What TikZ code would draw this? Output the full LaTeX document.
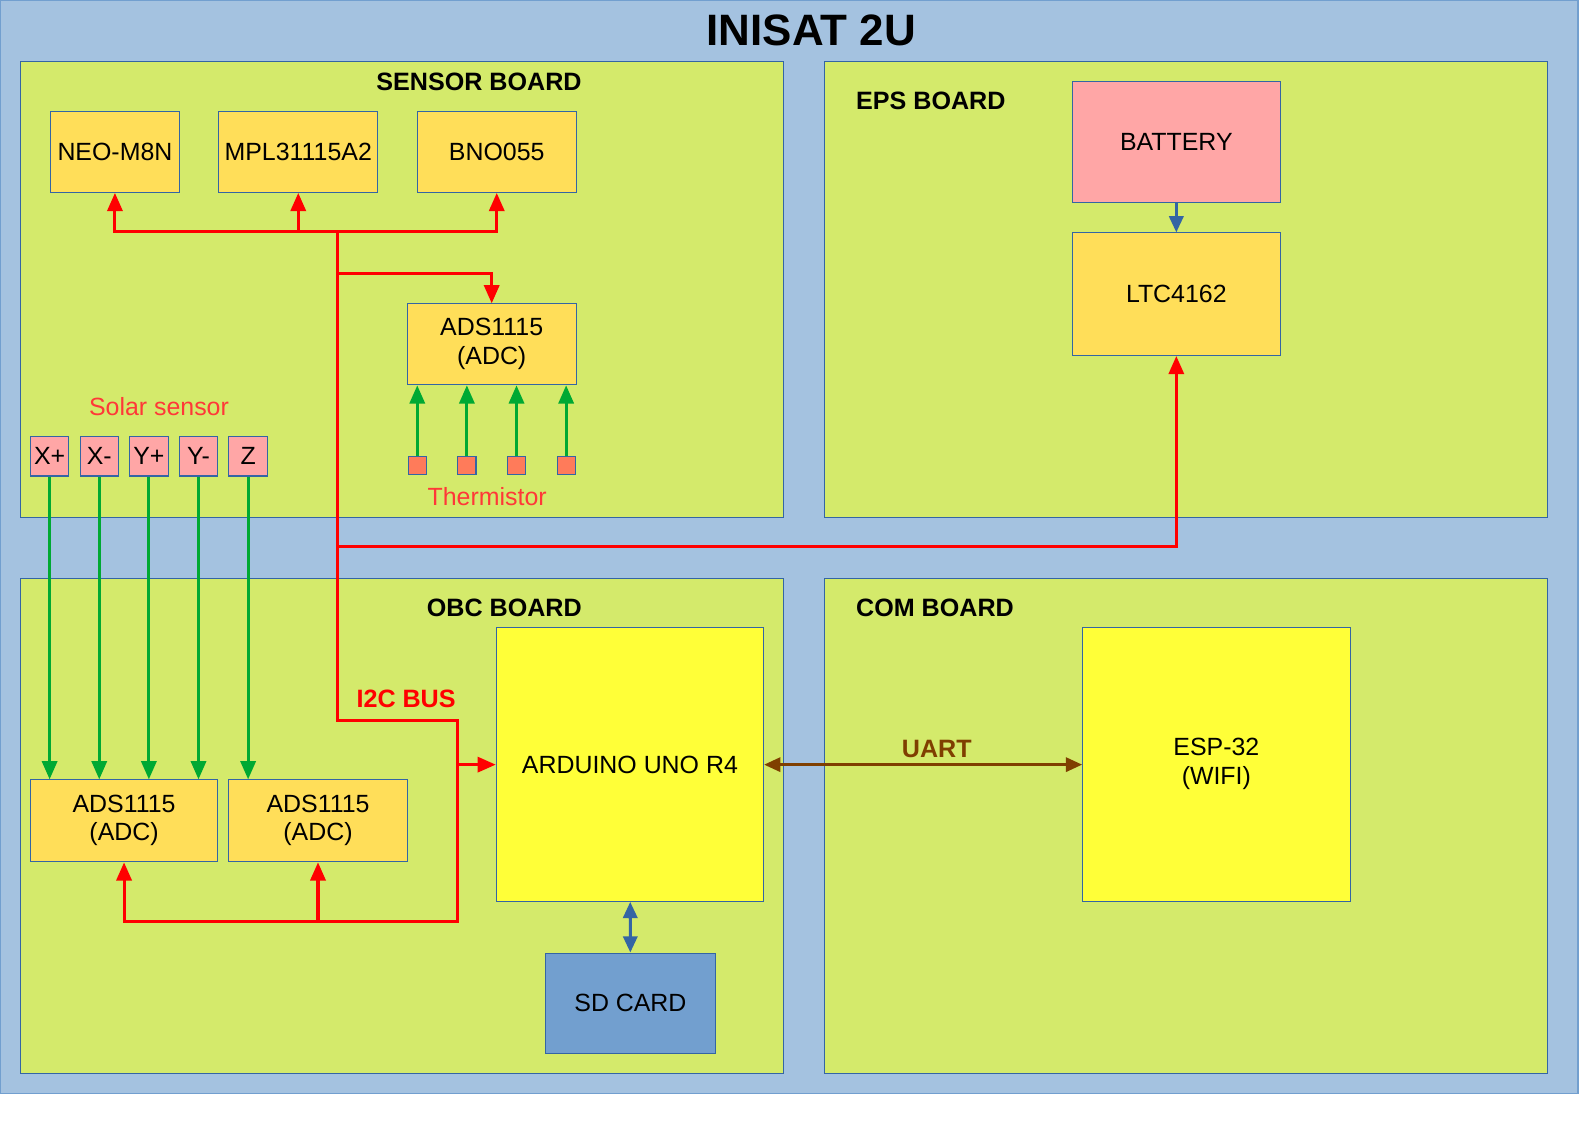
\documentclass[tikz,border=0pt]{standalone}
\usepackage{fontspec}
\setmainfont{Liberation Sans}
\usetikzlibrary{arrows.meta}

\definecolor{bgblue}{HTML}{A4C2E0}
\definecolor{edgeblue}{HTML}{3465A4}
\definecolor{boardgreen}{HTML}{D4EA6B}
\definecolor{gold}{HTML}{FFDE59}
\definecolor{pinkbox}{HTML}{FFA6A6}
\definecolor{thermred}{HTML}{FF7B5A}
\definecolor{sdblue}{HTML}{729FCF}
\definecolor{unoyellow}{HTML}{FFFF38}
\definecolor{busred}{HTML}{FF0000}
\definecolor{txtred}{HTML}{FF3838}
\definecolor{sigreen}{HTML}{00A933}
\definecolor{uartbrown}{HTML}{7F3F00}

\newcommand{\blkfont}{\fontsize{12.3}{14.2}\selectfont}

\begin{document}
\begin{tikzpicture}[x=0.5pt, y=-0.5pt,
  board/.style={draw=edgeblue, fill=boardgreen, line width=0.6pt, inner sep=0pt},
  block/.style={draw=edgeblue, fill=gold, line width=0.5pt, inner sep=0pt, font=\blkfont, align=center},
  twoline/.style={text depth=3pt},
  pad/.style={block, fill=pinkbox, minimum width=19pt, minimum height=19.5pt},
  therm/.style={draw=edgeblue, fill=thermred, line width=0.5pt, minimum size=9pt, inner sep=0pt},
  title/.style={font=\bfseries\fontsize{12.4}{14}\selectfont},
  bus/.style={busred, line width=1.5pt, -{Triangle[length=9pt,width=7.5pt]}},
  sig/.style={sigreen, line width=1.4pt, -{Triangle[length=9pt,width=7.5pt]}},
  link/.style={edgeblue, line width=1.5pt, {Triangle[length=8pt,width=7pt]}-{Triangle[length=8pt,width=7pt]}}
]
  \useasboundingbox (0,0) rectangle (1568,1109);
  \fill[bgblue, draw=sdblue, line width=0.6pt] (0,0) rectangle (1558,1080);
  \node[font=\bfseries\fontsize{21.7}{24}\selectfont] (head) at (801,30) {INISAT 2U};

  % Boards
  \node[board, minimum width=377pt, minimum height=225pt] (sensor) at (397,286) {};
  \node[board, minimum width=357pt, minimum height=225pt] (eps) at (1171,286) {};
  \node[board, minimum width=377pt, minimum height=244.5pt] (obc) at (397,815.5) {};
  \node[board, minimum width=357pt, minimum height=244.5pt] (com) at (1171,815.5) {};
  \node[title] (sensorlbl) at (473,81) {SENSOR BOARD};
  \node[title, anchor=west, inner sep=0pt] (epslbl) at (845,100) {EPS BOARD};
  \node[title] (obclbl) at (498,600) {OBC BOARD};
  \node[title, anchor=west, inner sep=0pt] (comlbl) at (845,600) {COM BOARD};

  % Sensor board
  \node[block, minimum width=63.5pt, minimum height=40pt] (neo) at (113.5,150) {NEO-M8N};
  \node[block, minimum width=78.5pt, minimum height=40pt] (mpl) at (294.5,150) {MPL31115A2};
  \node[block, minimum width=78.5pt, minimum height=40pt] (bno) at (490.5,150) {BNO055};
  \node[block, twoline, minimum width=83.5pt, minimum height=40pt] (adss) at (485.5,340) {ADS1115\\(ADC)};
  \node[font=\blkfont, text=txtred] (solarlbl) at (157,401) {Solar sensor};
  \foreach \n/\x/\t in {1/49/X+, 2/98/X-, 3/147/Y+, 4/196/Y-, 5/245/Z}
    \node[pad] (s\n) at (\x,450.5) {\t};
  \foreach \n/\x in {1/412, 2/461, 3/510, 4/559}
    \node[therm] (t\n) at (\x,460) {};
  \node[font=\blkfont, text=txtred] (thermlbl) at (481,490) {Thermistor};

  % EPS board
  \node[block, fill=pinkbox, minimum width=102.5pt, minimum height=60pt] (bat) at (1161.5,140) {BATTERY};
  \node[block, minimum width=102.5pt, minimum height=60.5pt] (ltc) at (1161.5,290.5) {LTC4162};

  % OBC board
  \node[block, twoline, minimum width=92.5pt, minimum height=40.5pt] (ads1) at (122.5,810.5) {ADS1115\\(ADC)};
  \node[block, twoline, minimum width=88pt, minimum height=40.5pt] (ads2) at (314,810.5) {ADS1115\\(ADC)};
  \node[block, fill=unoyellow, minimum width=132pt, minimum height=135pt] (uno) at (622,755) {ARDUINO UNO R4};
  \node[block, fill=sdblue, minimum width=83.5pt, minimum height=49.5pt] (sd) at (622.5,990.5) {SD CARD};
  \node[font=\bfseries\fontsize{12.4}{14}\selectfont, text=busred] (i2clbl) at (401,690) {I2C BUS};

  % COM board
  \node[block, twoline, fill=unoyellow, minimum width=132pt, minimum height=135pt] (esp) at (1201,755) {ESP-32\\(WIFI)};

  % I2C bus
  \coordinate (j1) at (333,229);
  \coordinate (j2) at (333,270);
  \coordinate (j3) at (333,540);
  \coordinate (j4) at (333,711);
  \coordinate (j5) at (452,711);
  \coordinate (j6) at (452,910);
  \coordinate (j7) at (314,910);
  \draw[bus] (j1) -| (neo);
  \draw[bus] (j1) -| (mpl);
  \draw[bus] (j1) -| (bno);
  \draw[bus] (j2) -| (adss);
  \draw[bus] (j3) -| (ltc);
  \draw[bus] (j1) -- (j4) -- (j5) -- (j6) -| (ads1);
  \draw[bus] (j7) -- (ads2);
  \draw[bus] (j5 |- uno.west) -- (uno);

  % Analog lines
  \foreach \n in {1,...,4}
    \draw[sig] (s\n) -- (s\n |- ads1.north);
  \draw[sig] (s5) -- (s5 |- ads2.north);
  \foreach \n in {1,...,4}
    \draw[sig] (t\n) -- (t\n |- adss.south);

  % Other links
  \draw[edgeblue, line width=1.5pt, -{Triangle[length=8pt,width=7pt]}] (bat) -- (ltc);
  \draw[link] (uno) -- (sd);
  \draw[link, uartbrown, line width=1.3pt] (uno) -- (esp);
  \node[font=\bfseries\fontsize{12.4}{14}\selectfont, text=uartbrown] (uartlbl) at (925,740) {UART};
\end{tikzpicture}
\end{document}
